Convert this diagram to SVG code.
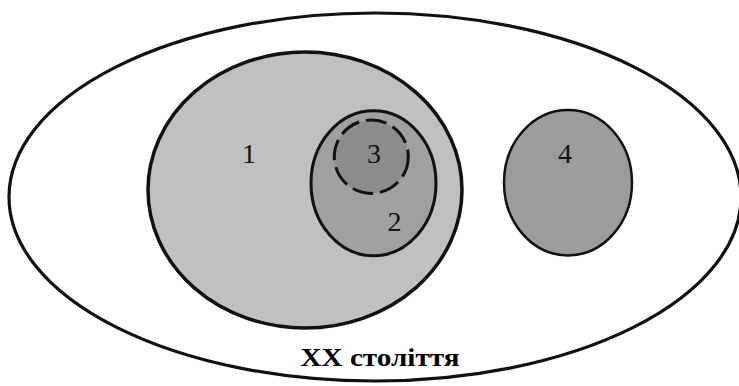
<svg xmlns="http://www.w3.org/2000/svg" width="739" height="386" viewBox="0 0 739 386">
  <style>
    .ring { stroke: #111; }
    .lbl { font-family: "Liberation Serif", "DejaVu Serif", serif; font-size: 28px; fill: #111; text-anchor: middle; }
    .title { font-family: "Liberation Serif", "DejaVu Serif", serif; font-size: 26px; font-weight: bold; fill: #000; text-anchor: middle; }
  </style>
  <rect width="739" height="386" fill="#fff"/>
  <g id="outer">
    <ellipse class="ring" cx="375" cy="197" rx="366" ry="184" fill="#fff" stroke-width="3.2"/>
    <text class="title" x="380" y="366" textLength="159" lengthAdjust="spacingAndGlyphs">XX століття</text>
  </g>
  <g id="set1">
    <ellipse class="ring" cx="305" cy="190" rx="157" ry="138" fill="#c0c0c0" stroke-width="3.5"/>
    <text class="lbl" x="249" y="163">1</text>
  </g>
  <g id="set2">
    <ellipse class="ring" cx="373.5" cy="183.3" rx="62.5" ry="72.5" fill="#a0a0a0" stroke-width="3"/>
    <text class="lbl" x="394.5" y="230.5">2</text>
  </g>
  <g id="set3">
    <ellipse cx="371.3" cy="156.7" rx="37" ry="36.7" fill="#8c8c8c" stroke="#111" stroke-width="3" stroke-dasharray="21 7"/>
    <text class="lbl" x="374" y="162.7">3</text>
  </g>
  <g id="set4">
    <ellipse class="ring" cx="568" cy="182.7" rx="64" ry="72.7" fill="#9c9c9c" stroke-width="2.5"/>
    <text class="lbl" x="565" y="163">4</text>
  </g>
  <g id="connectors"></g>
</svg>
